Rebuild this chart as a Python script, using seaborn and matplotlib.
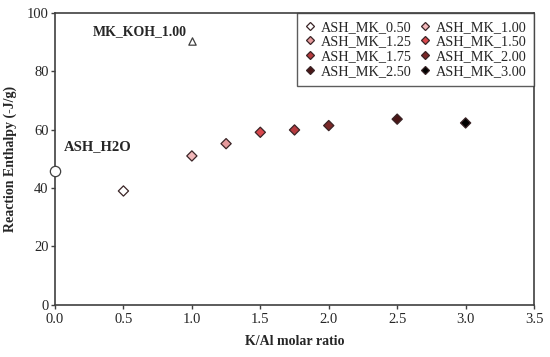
import pandas as pd
import numpy as np
import seaborn as sns
import matplotlib.pyplot as plt

# K/Al molar ratio vs reaction enthalpy
samples = ["ASH_MK_0.50", "ASH_MK_1.00", "ASH_MK_1.25", "ASH_MK_1.50",
           "ASH_MK_1.75", "ASH_MK_2.00", "ASH_MK_2.50", "ASH_MK_3.00"]
k_al = [0.5, 1.0, 1.25, 1.5, 1.75, 2.0, 2.5, 3.0]
enthalpy = [39.0, 51.0, 55.2, 59.1, 59.9, 61.4, 63.6, 62.3]
fills = ["#ffffff", "#f2b8ba", "#e69a9c", "#d9484d", "#b53a3e", "#7a2828", "#4a1616", "#000000"]

# reference points
h2o_x, h2o_y = [0.0], [46.0]
koh_x, koh_y = [1.0], [90.2]

df = pd.DataFrame({"sample": samples, "K/Al molar ratio": k_al, "Reaction Enthalpy (-J/g)": enthalpy})

sns.set_theme(style="white")
plt.rcParams["font.family"] = ["Liberation Serif", "DejaVu Serif"]

fig = plt.figure(figsize=(5.5, 3.57), dpi=100)
ax = fig.add_axes([0.1, 0.146, 0.871, 0.818])

sns.scatterplot(data=df, x="K/Al molar ratio", y="Reaction Enthalpy (-J/g)", hue="sample",
                palette=dict(zip(samples, fills)), marker="D", s=27, edgecolor="#3a2426",
                linewidth=0.9, ax=ax, zorder=3)
ax.scatter(h2o_x, h2o_y, marker="o", s=55, facecolor="white", edgecolor="#404040",
           linewidth=0.9, zorder=4, clip_on=False)
ax.scatter(koh_x, koh_y, marker="^", s=28, facecolor="white", edgecolor="#404040",
           linewidth=0.9, zorder=4)

ax.text(0.964, 93.5, "MK_KOH_1.00", ha="right", va="center", fontsize=10, fontweight="bold")
ax.text(0.066, 54.1, "ASH_H2O", ha="left", va="center", fontsize=10.5, fontweight="bold")

ax.set_xlim(0, 3.5)
ax.set_ylim(0, 100)
ax.set_xticks(np.arange(0, 3.51, 0.5))
ax.set_xticklabels([f"{v:.1f}" for v in np.arange(0, 3.51, 0.5)])
ax.set_yticks(range(0, 101, 20))
ax.tick_params(axis="both", labelsize=10.5, length=3, width=1, color="#404040", direction="out",
               bottom=True, left=True)
ax.tick_params(axis="y", pad=1.5)
ax.tick_params(axis="x", pad=3)
for sp in ax.spines.values():
    sp.set_color("#404040")
    sp.set_linewidth(1.2)
ax.set_xlabel("K/Al molar ratio", fontsize=10, fontweight="bold", labelpad=6)
ax.set_ylabel("Reaction Enthalpy (-J/g)", fontsize=10, fontweight="bold", labelpad=7)

# row-wise legend order, like the reference
handles, labels = ax.get_legend_handles_labels()
order = [0, 2, 4, 6, 1, 3, 5, 7]
leg = ax.legend([handles[i] for i in order], [labels[i] for i in order], ncol=2,
                loc="upper right", borderaxespad=0, frameon=True, fancybox=False,
                fontsize=10.3, handlelength=0.8, handletextpad=0.35, columnspacing=0.5,
                labelspacing=0.12, markerscale=0.75, borderpad=0.55)
leg.get_frame().set_edgecolor("#333333")
leg.get_frame().set_linewidth(1.0)

plt.savefig("out.png", dpi=100)
